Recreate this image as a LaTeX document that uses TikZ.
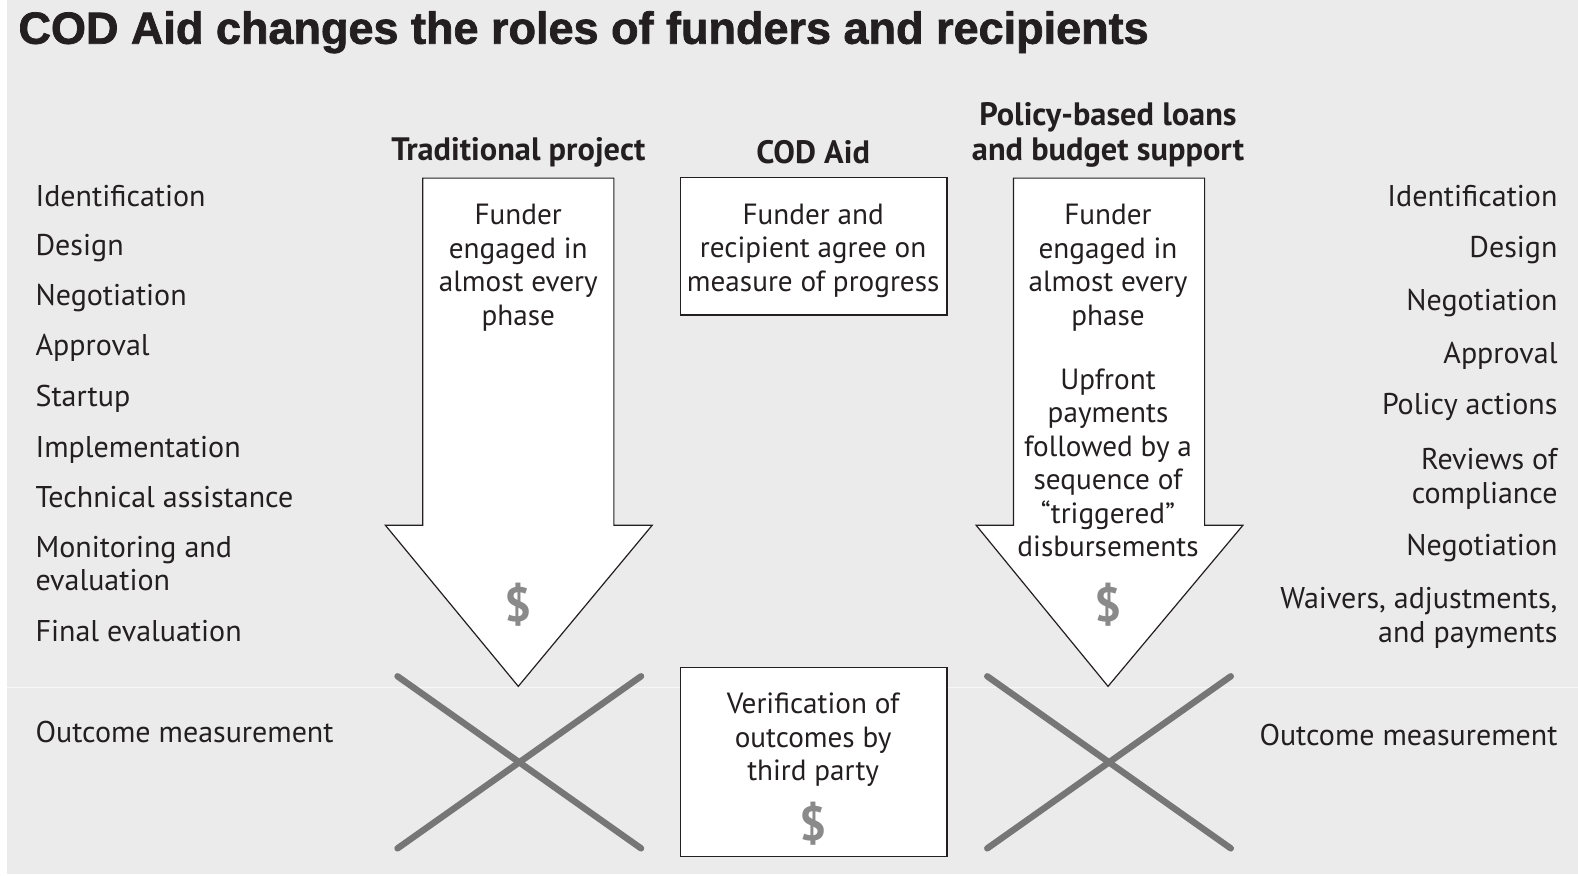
\documentclass[tikz,border=0pt]{standalone}
\usepackage{fontspec}
\setmainfont{PT Sans}
\newfontfamily\titlefont{Liberation Sans}[BoldFeatures = {FakeBold = 1.6}]
\usetikzlibrary{positioning}
\definecolor{bggray}{RGB}{235,235,235}
\definecolor{inkgray}{RGB}{35,31,32}
\definecolor{crossgray}{RGB}{118,118,118}
\definecolor{dollargray}{RGB}{138,138,138}

\begin{document}
\begin{tikzpicture}[x = .5032pt, y = -.5032pt,
    phase/.style = {font = \fontsize{15}{16.75}\selectfont, text = inkgray, inner sep = 0pt, text height = 1.6ex, text depth = .3ex},
    inbox/.style = {font = \fontsize{14.6}{16.75}\selectfont, text = inkgray, inner sep = 0pt, align = center},
    colhead/.style = {font = \bfseries\fontsize{16.2}{17.5}\selectfont, text = inkgray, inner sep = 0pt, align = center},
    dollar/.style = {font = \bfseries\fontsize{24}{24}\selectfont, text = dollargray, inner sep = 0pt},
    arrowbox/.style = {fill = white, draw = inkgray, line width = .6pt},
    cross/.style = {draw = crossgray, line width = 3.2pt, line cap = round}]
    \useasboundingbox (0,0) rectangle (1568,869.5);
    \fill[white] (0,0) rectangle (1568,869.5);
    \fill[bggray] (7,0) rectangle (1568,868.5);
    \draw[white, line width = .8pt, opacity = .6] (7,683) -- (1568,683);

    % title and column heads
    \node[anchor = west, inner sep = 0pt, text = inkgray, font = \titlefont\bfseries\fontsize{22.5}{24}\selectfont] (title) at (18,32) {COD Aid changes the roles of funders and recipients};
    \node[colhead] (headtrad) at (515,151) {Traditional project};
    \node[colhead] (headcod) at (808,151) {COD Aid};
    \node[colhead] (headpolicy) at (1101,134) {Policy-based loans\\and budget support};

    % big arrows and the crosses under them
    \draw[arrowbox] (420,177) -- (610,177) -- (610,522) -- (648,522) -- (515,682) -- (383,522) -- (420,522) -- cycle;
    \draw[arrowbox] (1007,177) -- (1197,177) -- (1197,522) -- (1235,522) -- (1101,682) -- (970,522) -- (1007,522) -- cycle;
    \draw[cross] (395,672) -- (637,843);
    \draw[cross] (395,843) -- (637,672);
    \draw[cross] (981,672) -- (1223,843);
    \draw[cross] (981,843) -- (1223,672);

    \node[inbox] (tradtext) at (515,266) {Funder\\engaged in\\almost every\\phase};
    \node[dollar] (traddollar) at (515,601) {\$};
    \node[inbox] (policytext) at (1101,266) {Funder\\engaged in\\almost every\\phase};
    \node[inbox] (policypay) at (1101,460) {Upfront\\payments\\followed by a\\sequence of\\“triggered”\\disbursements};
    \node[dollar] (policydollar) at (1101,601) {\$};

    % COD boxes
    \draw[arrowbox] (676,176) rectangle (941,313);
    \node[inbox] (codagree) at (808,249) {Funder and\\recipient agree on\\measure of progress};
    \draw[arrowbox] (676,663) rectangle (941,851);
    \node[inbox] (codverify) at (808,735) {Verification of\\outcomes by\\third party};
    \node[dollar] (coddollar) at (808,818) {\$};

    % phases, left
    \node[phase, anchor = west] (lident) at (35,199) {Identification};
    \node[phase, anchor = west] (ldesign) at (35,247) {Design};
    \node[phase, anchor = west] (lnego) at (35,297) {Negotiation};
    \node[phase, anchor = west] (lapprove) at (35,347) {Approval};
    \node[phase, anchor = west] (lstart) at (35,397) {Startup};
    \node[phase, anchor = west] (limpl) at (35,448) {Implementation};
    \node[phase, anchor = west] (ltech) at (35,498) {Technical assistance};
    \node[inbox, anchor = west, align = left, font = \fontsize{15}{16.75}\selectfont] (lmonitor) at (35,560) {Monitoring and\\evaluation};
    \node[phase, anchor = west] (lfinal) at (35,631) {Final evaluation};
    \node[phase, anchor = west] (lout) at (35,731) {Outcome measurement};

    % phases, right
    \node[phase, anchor = east] (rident) at (1548,199) {Identification};
    \node[phase, anchor = east] (rdesign) at (1548,249) {Design};
    \node[phase, anchor = east] (rnego) at (1548,302) {Negotiation};
    \node[phase, anchor = east] (rapprove) at (1548,355) {Approval};
    \node[phase, anchor = east] (rpolicy) at (1548,405) {Policy actions};
    \node[inbox, anchor = east, align = right, font = \fontsize{15}{16.75}\selectfont] (rreview) at (1548,476) {Reviews of\\compliance};
    \node[phase, anchor = east] (rnego2) at (1548,546) {Negotiation};
    \node[inbox, anchor = east, align = right, font = \fontsize{15}{16.75}\selectfont] (rwaive) at (1548,614) {Waivers, adjustments,\\and payments};
    \node[phase, anchor = east] (rout) at (1548,734) {Outcome measurement};
\end{tikzpicture}
\end{document}
